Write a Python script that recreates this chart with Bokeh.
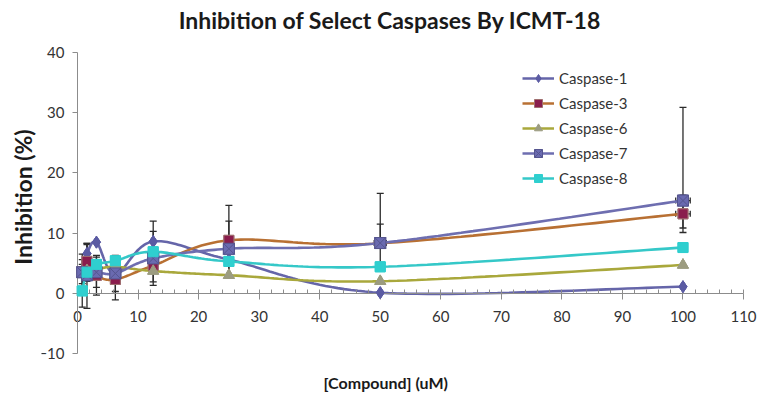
import numpy as np
from bokeh.plotting import figure
from bokeh.models import (Whisker, ColumnDataSource, Legend, LegendItem, LinearAxis,
                          FixedTicker, Range1d, TeeHead, Title, Label)
from bokeh.embed import file_html
from bokeh.resources import INLINE

# ---------------- data ----------------
conc = [0.78, 1.56, 3.125, 6.25, 12.5, 25, 50, 100]

casp1 = [3.8, 6.6, 8.5, 3.2, 8.6, 5.6, 0.1, 1.1]
casp1_lo = [1.0, 1.5, 0, 1.0, 3.4, 0, 0, 0]
casp1_hi = [1.0, 1.5, 0, 1.0, 3.4, 0, 0, 0]

casp3 = [3.6, 5.3, 3.0, 2.3, 4.6, 8.8, 8.3, 13.2]
casp3_lo = [2.0, 3.0, 3.3, 3.4, 2.7, 5.8, 3.2, 3.1]
casp3_hi = [2.0, 3.0, 3.3, 4.0, 2.7, 5.8, 3.2, 3.1]

casp6 = [3.5, 3.8, 4.0, 4.4, 3.7, 3.0, 2.0, 4.7]

casp7 = [3.5, 3.0, 3.5, 3.3, 5.8, 7.4, 8.35, 15.4]
casp7_lo = [3.0, 5.5, 2.5, 3.0, 4.5, 4.6, 0, 4.55]
casp7_hi = [3.0, 5.3, 2.5, 2.5, 4.5, 4.6, 8.25, 15.5]

casp8 = [0.4, 3.5, 4.8, 5.4, 6.9, 5.3, 4.4, 7.6]
casp8_lo = [2.7, 1.5, 0, 0, 0, 0, 0, 0]
casp8_hi = [2.7, 1.5, 0, 0, 0, 0, 0, 0]

xerr7 = [0, 0, 0, 0, 0, 0, 1.0, 1.2]
xerr3 = [0, 0, 0, 0, 0, 0, 0, 1.2]

names = ["Caspase-1", "Caspase-3", "Caspase-6", "Caspase-7", "Caspase-8"]
x_ticks = list(range(0, 111, 10))
y_ticks = list(range(-10, 41, 10))

# ---------------- helpers ----------------
def smooth(xs, ys, n=30):
    P = np.column_stack([xs, ys]).astype(float)
    m = len(P)
    out = []
    for i in range(m - 1):
        p0 = P[max(i - 1, 0)]
        p1 = P[i]
        p2 = P[i + 1]
        p3 = P[min(i + 2, m - 1)]
        c1 = p1 + (p2 - p0) / 6.0
        c2 = p2 - (p3 - p1) / 6.0
        t = np.linspace(0, 1, n)[:, None]
        seg = ((1 - t) ** 3) * p1 + 3 * ((1 - t) ** 2) * t * c1 + 3 * (1 - t) * t * t * c2 + t ** 3 * p2
        if i > 0:
            seg = seg[1:]
        out.append(seg)
    arr = np.vstack(out)
    return arr[:, 0], arr[:, 1]

FONT = "Lato"
TXT = "#333333"
AX = "#8c8c8c"

p = figure(width=761, height=393, x_range=Range1d(-5.95, 112.97), y_range=Range1d(-16.645, 48.638),
           output_backend="svg", toolbar_location=None,
           x_axis_location=None, y_axis_location=None,
           min_border_left=41, min_border_right=0, min_border_top=0, min_border_bottom=0)
p.grid.visible = False
p.outline_line_color = None
p.background_fill_color = "white"

p.add_layout(Label(x=51.6, y=45.35, text="Inhibition of Select Caspases By ICMT-18",
                   text_align="center", text_baseline="middle", text_font=FONT,
                   text_font_style="bold", text_font_size="23px", text_color="#1a1a1a"))
p.add_layout(Label(x=50.9, y=-14.75, text="[Compound] (uM)",
                   text_align="center", text_baseline="middle", text_font=FONT,
                   text_font_style="bold", text_font_size="16px", text_color="#1a1a1a"))

yt = Title(text="Inhibition (%)", align="center", standoff=9,
           text_font=FONT, text_font_style="bold", text_font_size="23px",
           text_color="#1a1a1a")
p.add_layout(yt, "left")

# x axis crossing at y = 0
xa = LinearAxis(fixed_location=0, bounds=(0, 110))
xa.ticker = FixedTicker(ticks=x_ticks, minor_ticks=list(range(0, 111, 2)))
xa.major_tick_in = 0
xa.major_tick_out = 6
xa.minor_tick_in = 4
xa.minor_tick_out = 0
xa.axis_line_color = AX
xa.major_tick_line_color = AX
xa.minor_tick_line_color = AX
xa.major_label_text_font = FONT
xa.major_label_text_font_size = "15px"
xa.major_label_text_color = TXT
xa.major_label_standoff = 12
p.add_layout(xa, "below")

# y axis at x = 0
ya = LinearAxis(fixed_location=0, bounds=(-10, 40))
ya.ticker = FixedTicker(ticks=y_ticks)
ya.minor_tick_line_color = None
ya.major_tick_in = 0
ya.major_tick_out = 5
ya.axis_line_color = AX
ya.major_tick_line_color = AX
ya.major_label_text_font = FONT
ya.major_label_text_font_size = "15px"
ya.major_label_text_color = TXT
ya.major_label_standoff = 8
p.add_layout(ya, "left")

ecol = "#2b2b2b"

def add_yerr(ys, lo, hi):
    xs, up, dn = [], [], []
    for x, y, l, h in zip(conc, ys, lo, hi):
        if l > 0 or h > 0:
            xs.append(x); up.append(y + h); dn.append(y - l)
    src = ColumnDataSource(dict(x=xs, upper=up, lower=dn))
    w = Whisker(base="x", upper="upper", lower="lower", source=src, dimension="height",
                line_color=ecol, line_width=1.3,
                upper_head=TeeHead(size=7, line_color=ecol, line_width=1.3),
                lower_head=TeeHead(size=7, line_color=ecol, line_width=1.3))
    p.add_layout(w)

def add_xerr(ys, xe):
    yb, up, dn = [], [], []
    for x, y, e in zip(conc, ys, xe):
        if e > 0:
            yb.append(y); up.append(x + e); dn.append(x - e)
    src = ColumnDataSource(dict(y=yb, upper=up, lower=dn))
    w = Whisker(base="y", upper="upper", lower="lower", source=src, dimension="width",
                line_color=ecol, line_width=1.3,
                upper_head=TeeHead(size=6, line_color=ecol, line_width=1.3),
                lower_head=TeeHead(size=6, line_color=ecol, line_width=1.3))
    p.add_layout(w)

series = [
    (casp1, "#6565a9", "#5b5ba3", "#5b5ba3", "diamond", 12),
    (casp3, "#b87033", "#8a1d4d", "#a07070", "square", 10),
    (casp6, "#a9a83c", "#9c9c80", "#9c9c80", "triangle", 11),
    (casp7, "#6e6eb0", "#6a6ab0", "#55558f", "square_x", 11),
    (casp8, "#35c8c8", "#2fcfcf", "#2fcfcf", "square", 10),
]

items = []
for (ys, lc, mc, mlc, mk, ms), nm in zip(series, names):
    sx, sy = smooth(conc, ys)
    lr = p.line(sx, sy, line_color=lc, line_width=2.6)
    mr = p.scatter(conc, ys, marker=mk, size=ms, fill_color=mc, line_color=mlc, line_width=1)
    items.append(LegendItem(label=nm, renderers=[lr, mr]))

add_yerr(casp1, casp1_lo, casp1_hi)
add_yerr(casp3, casp3_lo, casp3_hi)
add_yerr(casp7, casp7_lo, casp7_hi)
add_yerr(casp8, casp8_lo, casp8_hi)
add_xerr(casp7, xerr7)
add_xerr(casp3, xerr3)

# redraw markers on top of error bars
for (ys, lc, mc, mlc, mk, ms) in series:
    p.scatter(conc, ys, marker=mk, size=ms, fill_color=mc, line_color=mlc, line_width=1, level="overlay")

legend = Legend(items=items, location=(481, 205), glyph_width=32, glyph_height=20,
                spacing=5, padding=0, margin=0, border_line_color=None,
                background_fill_alpha=0, label_text_font=FONT,
                label_text_font_size="15px", label_text_color=TXT,
                label_standoff=5)
p.add_layout(legend)

open("out.html", "w").write(file_html(p, INLINE))
